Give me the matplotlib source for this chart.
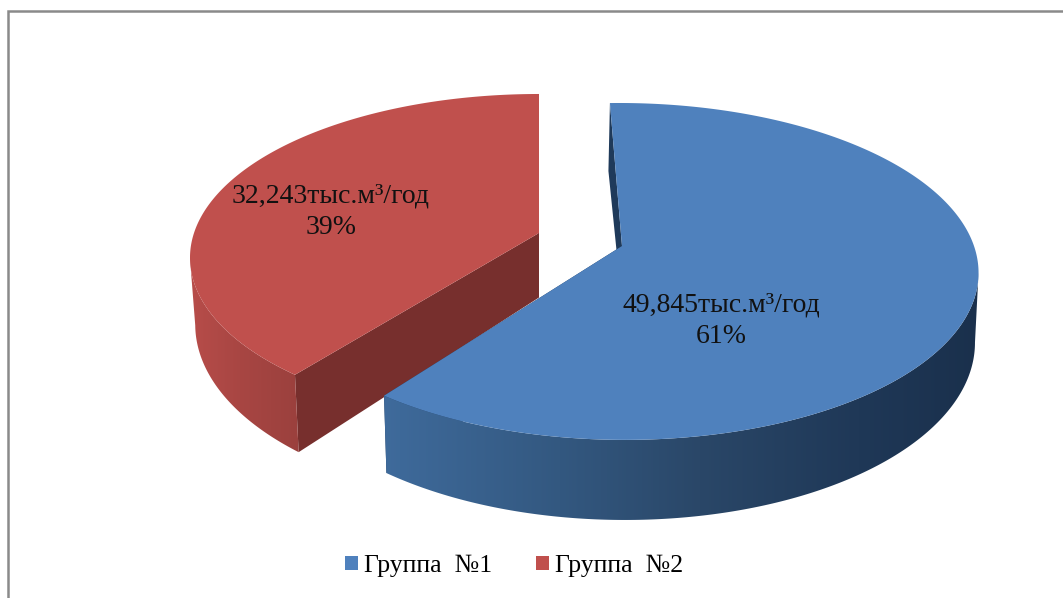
import numpy as np
import matplotlib
matplotlib.use("Agg")
import matplotlib.pyplot as plt
from matplotlib.colors import LinearSegmentedColormap
from matplotlib.patches import Patch, Polygon

plt.rcParams['font.family'] = ['Liberation Serif', 'DejaVu Serif']

groups = ["Группа  №1", "Группа  №2"]
values = [49.845, 32.243]
labels = ["49,845тыс.м³/год\n61%", "32,243тыс.м³/год\n39%"]

TOP_BLUE = "#4f81bd"
TOP_RED = "#c0504d"
K = 0.151  # perspective strength

# wall shading along screen x
blue_wall = [(380, "#3f6b9c"), (560, "#335880"), (700, "#2a4768"), (860, "#1f3857"), (980, "#1a304c")]
red_wall = [(188, "#b84d4a"), (240, "#a84643"), (302, "#9a403d")]


def project(ang, c, rx, ry, skew):
    # clockwise degrees from 12 o'clock on the disc -> pixels
    a = np.radians(ang)
    u, v = np.sin(a), np.cos(a)
    s = 1 / (1 + K * v)
    return c[0] + rx * u * s + skew * v, c[1] - ry * v * s, s


def draw_slice(ax, start, span, c, rx, ry, depth, power, color, inner, stops, shrink, apex_dx, skew, z):
    ang = np.linspace(start, start + span, 361)
    x, y, s = project(ang, c, rx, ry, skew)
    xb = c[0] + (x - c[0]) * shrink
    yb = y + depth * s ** power
    apex_b = (c[0] + apex_dx, c[1] + depth)

    # cut faces, a rim corner at the back keeps the full wall height
    for i in (0, -1):
        back = np.cos(np.radians(ang[i])) > 0
        cx = x[i] - 1.5 if back else xb[i]
        cy = y[i] + depth if back else yb[i]
        ax.fill([x[i], c[0], apex_b[0], cx], [y[i], c[1], apex_b[1], cy], color=inner, lw=0, zorder=z)

    # rim wall, only the side facing the viewer, shaded left to right
    front = np.cos(np.radians(ang)) < -K
    lo, hi = stops[0][0], stops[-1][0]
    cm = LinearSegmentedColormap.from_list("w", [((p - lo) / (hi - lo), col) for p, col in stops])
    wall = Polygon(np.c_[np.r_[x[front], xb[front][::-1]], np.r_[y[front], yb[front][::-1]]],
                   closed=True, transform=ax.transData, facecolor="none", edgecolor="none")
    ax.add_patch(wall)
    im = ax.imshow(np.linspace(0, 1, 256)[None, :], cmap=cm, extent=[lo, hi, 598, 0], aspect="auto",
                   interpolation="bilinear", zorder=z + 1)
    im.set_clip_path(wall)

    # top face
    ax.fill(np.r_[c[0], x], np.r_[c[1], y], color=color, lw=0, zorder=z + 2)


fig = plt.figure(figsize=(10.63, 5.98), dpi=100)
ax = fig.add_axes([0, 0, 1, 1])
ax.axis("off")

span_blue = 360 * values[0] / sum(values)
span_red = 360 * values[1] / sum(values)

draw_slice(ax, 360 - span_red, span_red, (539, 233), 345, 160, 64.5, 1.45, TOP_RED, "#772f2d", red_wall, 0.985, 0, 0, 1)
draw_slice(ax, -1.7, span_blue, (622, 246), 352, 164.6, 68, 1.0, TOP_BLUE, "#1f3a5a", blue_wall, 0.99, 1, -3, 4)

ax.set_xlim(0, 1063)
ax.set_ylim(598, 0)

ax.text(721, 321, labels[0], ha="center", va="center", fontsize=20, color="#111111", linespacing=1.33, zorder=8)
ax.text(331, 212, labels[1], ha="center", va="center", fontsize=20, color="#111111", linespacing=1.33, zorder=8)

# chart frame, right and bottom sides are cropped off in the source
ax.plot([8, 8, 1063], [598, 11, 11], color="#8a8a8a", lw=1.8, solid_joinstyle="miter", zorder=9)

handles = [Patch(facecolor=TOP_BLUE, edgecolor="none"), Patch(facecolor=TOP_RED, edgecolor="none")]
fig.legend(handles, groups, ncol=2, frameon=False, loc="center", bbox_to_anchor=(514 / 1063, 1 - 566 / 598),
           fontsize=18.5, handlelength=0.5, handleheight=0.5, handletextpad=0.23, columnspacing=1.7)

fig.savefig("out.png", dpi=100)
